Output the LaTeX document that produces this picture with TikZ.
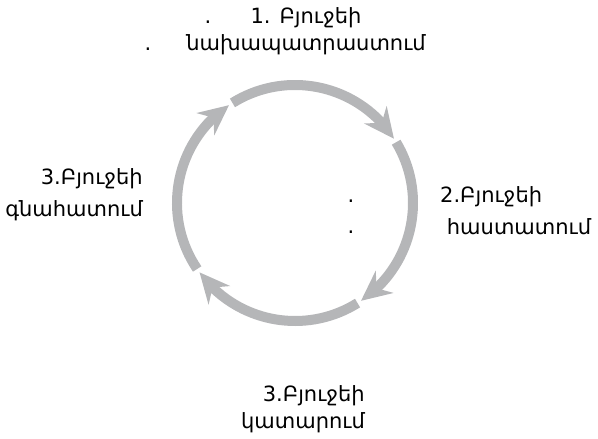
\documentclass[tikz,border=0pt]{standalone}
\usepackage{fontspec}
\setmainfont{DejaVu Sans}
\usetikzlibrary{arrows.meta,bending}
\definecolor{cyclegray}{RGB}{181,182,184}

\begin{document}
\begin{tikzpicture}[x=1pt,y=1pt,>={Stealth[length=30pt,width=28pt,inset=10pt]},
  stage/.style={font=\fontsize{21}{27}\selectfont,inner sep=0pt},
  cyc/.style={line width=10pt,cyclegray,->}]
\useasboundingbox (0,0) rectangle (598,439);
\coordinate (c) at (295,236);
% the four arcs of the cycle
\draw[cyc] ([shift={(122:118)}]c) arc[start angle=122,end angle=33,radius=118];
\draw[cyc] ([shift={(31:118)}]c) arc[start angle=31,end angle=-56,radius=118];
\draw[cyc] ([shift={(-58:118)}]c) arc[start angle=-58,end angle=-144,radius=118];
\draw[cyc] ([shift={(214:118)}]c) arc[start angle=214,end angle=124,radius=118];
% labels
\node[stage,align=center,anchor=base] (prep) at (306,388) {1. Բյուջեի\\նախապատրաստում};
\node[stage,align=left,anchor=base west] (appr) at (440,204) {2.Բյուջեի\\[5pt]\hspace*{0.32em}հաստատում};
\node[stage,align=right,anchor=base east] (exec) at (365,10) {3.Բյուջեի\\կատարում};
\node[stage,align=right,anchor=base east] (eval) at (143,222) {3.Բյուջեի\\[5pt]գնահատում};
% stray dots
\node[stage,anchor=base] (dotA) at (208,415) {.};
\node[stage,anchor=base] (dotB) at (148,388) {.};
\node[stage,anchor=base] (dotC) at (351,236) {.};
\node[stage,anchor=base] (dotD) at (351,205) {.};
\end{tikzpicture}
\end{document}
